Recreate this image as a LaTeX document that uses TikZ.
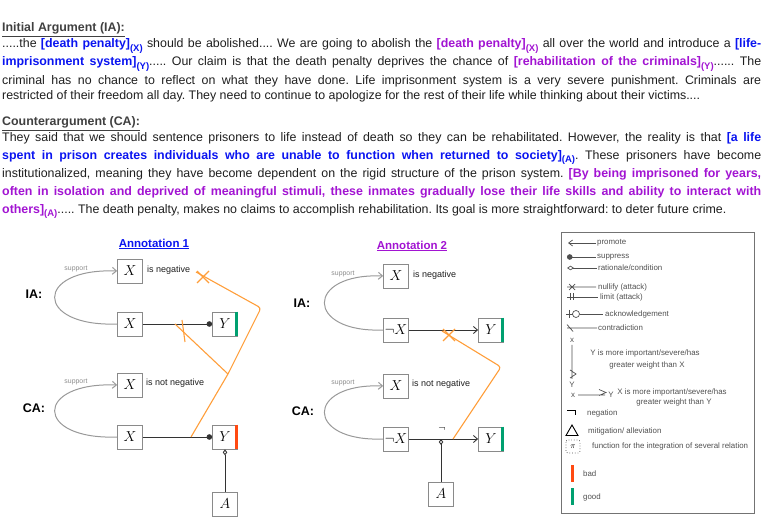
\documentclass[tikz,border=0pt]{standalone}
\usepackage{fontspec}
\setmainfont{Liberation Sans}
\usetikzlibrary{arrows.meta}
\frenchspacing
\definecolor{txt}{HTML}{1E1E1E}
\definecolor{hd}{HTML}{404040}
\definecolor{hlb}{HTML}{0A14F0}
\definecolor{hlp}{HTML}{A214D2}
\definecolor{orng}{HTML}{FF9E3A}
\definecolor{grn}{HTML}{00A070}
\definecolor{rd}{HTML}{FF4A12}
\definecolor{bxg}{HTML}{8A8A8A}
\definecolor{lgt}{HTML}{505050}
\newcommand{\sbx}[1]{\raisebox{-3.5pt}{\fontsize{9.5}{9.5}\selectfont #1}}
\newcommand{\hb}[1]{\textcolor{hlb}{\bfseries #1}}
\newcommand{\hp}[1]{\textcolor{hlp}{\bfseries #1}}
\tikzset{
  para/.style={anchor=base west, inner sep=0pt, text=txt, font=\fontsize{12.4}{15}\selectfont},
  heading/.style={anchor=base west, inner sep=0pt, text=hd, font=\fontsize{12.4}{15}\selectfont\bfseries},
  box/.style={draw=bxg, line width=0.8pt, fill=white, minimum width=25pt, minimum height=24pt, inner sep=0pt, font=\fontsize{13.5}{15}\selectfont},
  lbl/.style={anchor=west, inner sep=0pt, text=txt, font=\fontsize{9}{11}\selectfont},
  side/.style={inner sep=0pt, text=black, font=\fontsize{12.5}{14}\selectfont\bfseries},
  atitle/.style={inner sep=0pt, font=\fontsize{11.5}{13}\selectfont\bfseries},
  conn/.style={draw=black!80, line width=0.9pt},
  sup/.style={draw=black!40, line width=1pt, -{Straight Barb[length=4pt,width=7pt]}},
  suplbl/.style={inner sep=0pt, text=black!45, font=\fontsize{6.9}{8}\selectfont},
  orn/.style={draw=orng, line width=1.1pt},
  lgtxt/.style={anchor=west, inner sep=0pt, text=lgt, font=\fontsize{7.9}{9}\selectfont},
  lgc/.style={inner sep=0pt, text=lgt, font=\fontsize{7.9}{9}\selectfont},
  lgl/.style={draw=lgt, line width=0.7pt}
}
\begin{document}
\begin{tikzpicture}[x=1pt,y=-1pt]
\useasboundingbox (0,0) rectangle (763,518);
% ---------------- Text: Initial argument
\node[heading] (h1) at (2,32) {\underline{Initial Argument (IA):}};
\node[para] (l1) at (2,48) {\hbox to 759pt{.....the \hb{[death penalty]\sbx{(X)}} should be abolished.... We are going to abolish the \hp{[death penalty]\sbx{(X)}} all over the world and introduce a \hb{[life-}}};
\node[para] (l2) at (2,66) {\hbox to 759pt{\hb{imprisonment system]\sbx{(Y)}}..... Our claim is that the death penalty deprives the chance of \hp{[rehabilitation of the criminals]\sbx{(Y)}}...... The}};
\node[para] (l3) at (2,85) {\hbox to 759pt{criminal has no chance to reflect on what they have done. Life imprisonment system is a very severe punishment. Criminals are}};
\node[para] (l4) at (2,100) {restricted of their freedom all day. They need to continue to apologize for the rest of their life while thinking about their victims....};
% ---------------- Text: Counterargument
\node[heading] (h2) at (2,126) {\underline{Counterargument (CA):}};
\node[para] (c1) at (2,142) {\hbox to 759pt{They said that we should sentence prisoners to life instead of death so they can be rehabilitated. However, the reality is that \hb{[a life}}};
\node[para] (c2) at (2,159.5) {\hbox to 759pt{\hb{spent in prison creates individuals who are unable to function when returned to society]\sbx{(A)}}. These prisoners have become}};
\node[para] (c3) at (2,178) {\hbox to 759pt{institutionalized, meaning they have become dependent on the rigid structure of the prison system. \hp{[By being imprisoned for years,}}};
\node[para] (c4) at (2,196) {\hbox to 759pt{\hp{often in isolation and deprived of meaningful stimuli, these inmates gradually lose their life skills and ability to interact with}}};
\node[para] (c5) at (2,213.5) {\hp{others]\sbx{(A)}}..... The death penalty, makes no claims to accomplish rehabilitation. Its goal is more straightforward: to deter future crime.};
% ---------------- Annotation 1
\node[atitle, text=hlb] (t1) at (154,244) {\underline{Annotation 1}};
\node[box] (x1a) at (130,271) {$X$};
\node[lbl] (n1a) at (147,270) {is negative};
\node[side] (ia1) at (34,294) {IA:};
\node[box] (x1b) at (130,324) {$X$};
\node[box] (y1b) at (225,324) {$Y$};
\node[box] (x1c) at (130,385) {$X$};
\node[lbl] (n1c) at (146,383) {is not negative};
\node[side] (ca1) at (34,408) {CA:};
\node[box] (x1d) at (130,437) {$X$};
\node[box] (y1d) at (225,437) {$Y$};
\node[box] (a1) at (225,504) {$A$};
\draw[grn, line width=2.6pt] ([xshift=-1.3pt]y1b.north east) -- ([xshift=-1.3pt]y1b.south east);
\draw[rd, line width=2.6pt] ([xshift=-1.3pt]y1d.north east) -- ([xshift=-1.3pt]y1d.south east);
\draw[conn, -{Circle[length=5.5pt]}] (x1b) -- (y1b);
\draw[conn, -{Circle[length=5.5pt]}] (x1d) -- (y1d);
\draw[conn, -{Diamond[open,length=6pt,width=4.5pt]}] (a1) -- (y1d);
\draw[sup] (x1b.west) .. controls (34,327) and (34,268) .. (x1a.west);
\draw[sup] (x1d.west) .. controls (34,440) and (34,382) .. (x1c.west);
\node[suplbl] (s1a) at (76,269) {support};
\node[suplbl] (s1c) at (76,382) {support};
\coordinate (o1s) at (191,437);
\coordinate (o1j) at (228,374);
\coordinate (o1c) at (261,308);
\coordinate (o1e) at (196,272);
\coordinate (o1f) at (175,324);
\draw[orn, rounded corners=3pt] (o1s) -- (o1j) -- (o1c) -- (o1e);
\draw[orn] (o1j) -- (o1f);
\draw[orn] (197,271) -- (209,283) (197,283) -- (209,271);
\draw[orn] (182,320) -- (185,342);
% ---------------- Annotation 2
\node[atitle, text=hlp] (t2) at (412,246) {\underline{Annotation 2}};
\node[box] (x2a) at (396,276) {$X$};
\node[lbl] (n2a) at (413,275) {is negative};
\node[side] (ia2) at (302,303) {IA:};
\node[box] (x2b) at (396,330) {$\neg X$};
\node[box] (y2b) at (491,330) {$Y$};
\node[box] (x2c) at (396,386) {$X$};
\node[lbl] (n2c) at (412,384) {is not negative};
\node[side] (ca2) at (303,411) {CA:};
\node[box] (x2d) at (396,439) {$\neg X$};
\node[box] (y2d) at (491,439) {$Y$};
\node[box] (a2) at (441,494) {$A$};
\draw[grn, line width=2.6pt] ([xshift=-1.3pt]y2b.north east) -- ([xshift=-1.3pt]y2b.south east);
\draw[grn, line width=2.6pt] ([xshift=-1.3pt]y2d.north east) -- ([xshift=-1.3pt]y2d.south east);
\draw[conn, -{Straight Barb[length=4pt,width=7pt]}] (x2b) -- (y2b);
\draw[conn, -{Straight Barb[length=4pt,width=7pt]}] (x2d) -- (y2d);
\coordinate (m2) at (a2.north |- x2d.east);
\draw[conn, -{Diamond[open,length=6pt,width=4.5pt]}] (a2) -- (m2);
\node[inner sep=0pt, font=\fontsize{11}{12}\selectfont] (neg2) at (442,429) {$\neg$};
\draw[sup] (x2b.west) .. controls (305,333) and (305,273) .. (x2a.west);
\draw[sup] (x2d.west) .. controls (305,442) and (305,383) .. (x2c.west);
\node[suplbl] (s2a) at (343,274) {support};
\node[suplbl] (s2c) at (343,383) {support};
\coordinate (o2s) at (453,439);
\coordinate (o2c) at (501,367);
\coordinate (o2e) at (442,331);
\draw[orn, rounded corners=3pt] (o2s) -- (o2c) -- (o2e);
\draw[orn] (443,329) -- (455,341) (443,341) -- (455,329);
% ---------------- Legend
\draw[draw=black!55, line width=0.8pt] (561,232) rectangle (754,513);
\draw[lgl, {Straight Barb[length=4pt,width=6pt]}-] (568,243) -- (596,243);
\node[lgtxt] at (597,243) {promote};
\draw[lgl, {Circle[length=5.5pt]}-] (567,257) -- (596,257);
\node[lgtxt] at (597,257) {suppress};
\draw[lgl, {Diamond[open,length=7pt,width=4.5pt]}-] (567,268) -- (597,268);
\node[lgtxt] at (598,268) {rationale/condition};
\draw[lgl] (567,287) -- (596,287) (569,284) -- (575,290) (569,290) -- (575,284);
\node[lgtxt] at (598,287) {nullify (attack)};
\draw[lgl] (567,297) -- (598,297) (570,293.5) -- (570,300.5) (573,293.5) -- (573,300.5);
\node[lgtxt] at (600,297) {limit (attack)};
\draw[lgl] (566,314) -- (572.5,314) (569,310) -- (569,318) (579.5,314) -- (603,314);
\draw[lgl] (576,314) circle (3.5pt);
\node[lgtxt] at (605,314) {acknowledgement};
\draw[lgl] (567,328) -- (597,328) (567,324.5) -- (573,331.5);
\node[lgtxt] at (598,328) {contradiction};
\node[lgc] (lx1) at (572,340) {x};
\draw[lgl] (572,345) -- (572,379) (570,370) -- (576,374) -- (570,378);
\node[lgc] (ly1) at (572,385) {Y};
\node[lgc] at (645,353) {Y is more important/severe/has};
\node[lgc] at (647,365) {greater weight than X};
\node[lgc] (lx2) at (573,395) {x};
\draw[lgl] (578,395) -- (605,395) (599,389.5) -- (606,392.5) -- (599,395.5);
\node[lgc] (ly2) at (611,395) {Y};
\node[lgc] at (672,392) {X is more important/severe/has};
\node[lgc] at (674,402) {greater weight than Y};
\draw[draw=black, line width=0.9pt] (567,410.5) -- (575.5,410.5) -- (575.5,415);
\node[lgtxt] at (587,413) {negation};
\draw[draw=black, line width=0.9pt] (566,435.5) -- (578,435.5) -- (572,425) -- cycle;
\node[lgtxt] at (588,431) {mitigation/ alleviation};
\draw[draw=black!70, dotted, line width=0.7pt, rounded corners=2pt] (566,440) rectangle (580,453);
\node[inner sep=0pt, font=\fontsize{8}{9}\selectfont] (pi) at (573,446.5) {$\pi$};
\node[lgtxt] at (592,446) {function for the integration of several relation};
\draw[rd, line width=3pt] (572,465) -- (572,482);
\node[lgtxt] at (583,474) {bad};
\draw[grn, line width=3pt] (572,488) -- (572,505);
\node[lgtxt] at (583,497) {good};
\end{tikzpicture}
\end{document}
